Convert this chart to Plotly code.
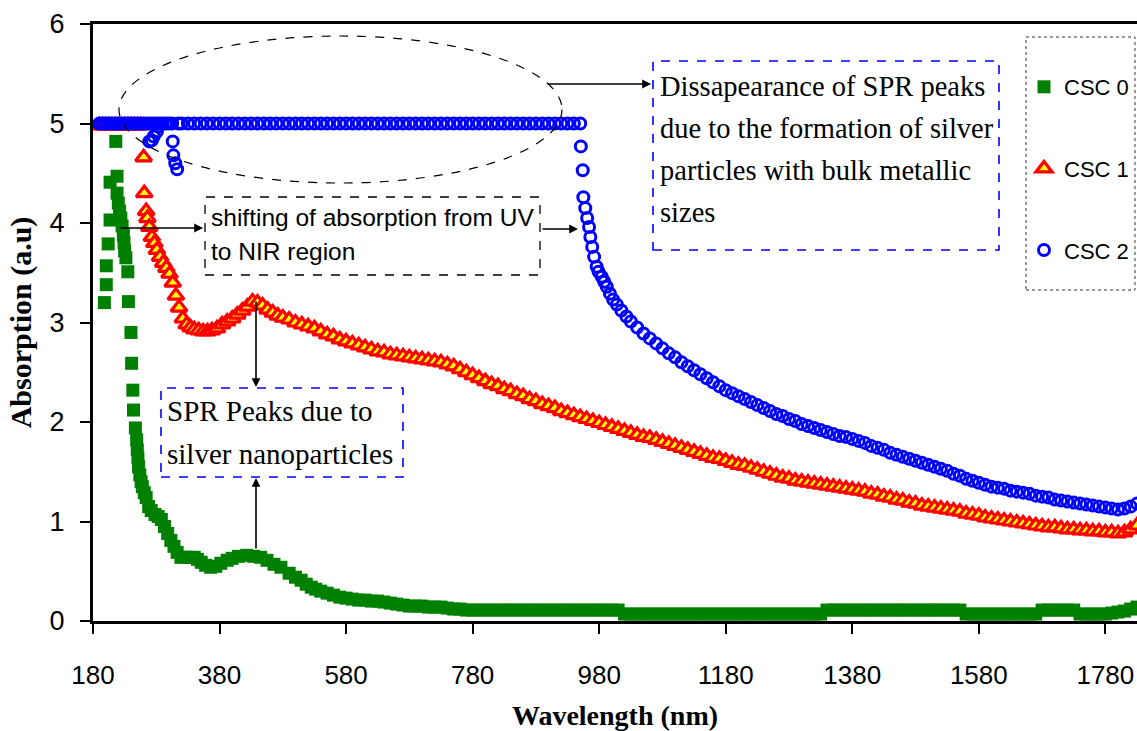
import plotly.graph_objects as go

# ---------------- data ----------------
# shared 10-nm grid used by CSC 0 and CSC 1 beyond 530 nm
WL_GRID = [540, 550, 560, 570, 580, 590, 600, 610, 620, 630,
           640, 650, 660, 670, 680, 690, 700, 710, 720, 730,
           740, 750, 760, 770, 780, 790, 800, 810, 820, 830,
           840, 850, 860, 870, 880, 890, 900, 910, 920, 930,
           940, 950, 960, 970, 980, 990, 1000, 1010, 1020, 1030,
           1040, 1050, 1060, 1070, 1080, 1090, 1100, 1110, 1120, 1130,
           1140, 1150, 1160, 1170, 1180, 1190, 1200, 1210, 1220, 1230,
           1240, 1250, 1260, 1270, 1280, 1290, 1300, 1310, 1320, 1330,
           1340, 1350, 1360, 1370, 1380, 1390, 1400, 1410, 1420, 1430,
           1440, 1450, 1460, 1470, 1480, 1490, 1500, 1510, 1520, 1530,
           1540, 1550, 1560, 1570, 1580, 1590, 1600, 1610, 1620, 1630,
           1640, 1650, 1660, 1670, 1680, 1690, 1700, 1710, 1720, 1730,
           1740, 1750, 1760, 1770, 1780, 1790, 1800, 1810, 1820, 1830]

# CSC 0
wl0_uv = [198, 201, 201, 204, 207, 207, 216, 218, 218, 220,
          222, 224, 226, 228, 229, 230, 232, 235, 236, 240,
          241, 243, 244, 247, 249, 250, 251, 252, 254, 256,
          258, 261, 264, 268, 272, 278, 283, 288, 293, 298,
          303, 308, 313, 319, 326, 333, 340, 345, 351, 358,
          366, 374, 382, 392, 400, 410, 423, 434, 445, 455,
          466, 477, 490, 500, 509, 517, 525, 532]
csc0_uv = [3.20, 3.38, 3.57, 3.79, 4.03, 4.41, 4.82, 4.47, 4.30, 4.20,
           4.12, 4.05, 3.97, 3.88, 3.80, 3.72, 3.65, 3.51, 3.21, 2.90,
           2.59, 2.32, 2.12, 1.94, 1.82, 1.72, 1.64, 1.55, 1.47, 1.40,
           1.35, 1.29, 1.24, 1.15, 1.11, 1.07, 1.05, 1.02, 0.95, 0.88,
           0.81, 0.75, 0.69, 0.64, 0.64, 0.64, 0.64, 0.62, 0.59, 0.56,
           0.54, 0.55, 0.58, 0.61, 0.63, 0.65, 0.66, 0.65, 0.64, 0.61,
           0.57, 0.54, 0.48, 0.44, 0.41, 0.37, 0.34, 0.32]
csc0_grid = [0.30, 0.28, 0.26, 0.24, 0.23, 0.22, 0.21, 0.21, 0.20, 0.20,
             0.19, 0.18, 0.17, 0.16, 0.15, 0.15, 0.15, 0.14, 0.14, 0.14,
             0.13, 0.12, 0.12, 0.11, 0.11, 0.11, 0.11, 0.11, 0.11, 0.11,
             0.11, 0.11, 0.11, 0.11, 0.11, 0.11, 0.11, 0.11, 0.11, 0.11,
             0.11, 0.11, 0.11, 0.11, 0.11, 0.11, 0.11, 0.11, 0.07, 0.07,
             0.07, 0.07, 0.07, 0.07, 0.07, 0.07, 0.07, 0.07, 0.07, 0.07,
             0.07, 0.07, 0.07, 0.07, 0.07, 0.07, 0.07, 0.07, 0.07, 0.07,
             0.07, 0.07, 0.07, 0.07, 0.07, 0.07, 0.07, 0.07, 0.07, 0.07,
             0.11, 0.11, 0.11, 0.11, 0.11, 0.11, 0.11, 0.11, 0.11, 0.11,
             0.11, 0.11, 0.11, 0.11, 0.11, 0.11, 0.11, 0.11, 0.11, 0.11,
             0.11, 0.11, 0.07, 0.07, 0.07, 0.07, 0.07, 0.07, 0.07, 0.07,
             0.07, 0.07, 0.07, 0.07, 0.11, 0.11, 0.11, 0.11, 0.11, 0.11,
             0.07, 0.07, 0.07, 0.07, 0.07, 0.08, 0.09, 0.10, 0.12, 0.14]

# CSC 1
wl1_uv = [190, 195, 200, 205, 210, 215, 220, 225, 230, 235,
          240, 245, 250, 255, 260, 261, 264, 266, 269, 273,
          277, 281, 286, 291, 296, 301, 306, 311, 316, 322,
          328, 334, 340, 347, 354, 361, 368, 376, 384, 392,
          400, 408, 416, 424, 432, 440, 448, 456, 464, 472,
          480, 490, 500, 510, 520, 530]
csc1_uv = [4.98, 4.98, 4.98, 4.98, 4.98, 4.98, 4.98, 4.98, 4.98, 4.98,
           4.98, 4.98, 4.98, 4.98, 4.66, 4.30, 4.12, 4.05, 3.96, 3.86,
           3.80, 3.73, 3.66, 3.60, 3.55, 3.49, 3.40, 3.27, 3.15, 3.04,
           2.98, 2.95, 2.93, 2.92, 2.91, 2.91, 2.92, 2.94, 2.98, 3.01,
           3.04, 3.08, 3.12, 3.16, 3.21, 3.20, 3.17, 3.13, 3.10, 3.07,
           3.05, 3.03, 3.00, 2.98, 2.96, 2.94]
csc1_grid = [2.91, 2.88, 2.86, 2.83, 2.81, 2.79, 2.77, 2.75, 2.73, 2.71,
             2.70, 2.68, 2.67, 2.66, 2.65, 2.64, 2.63, 2.62, 2.61, 2.60,
             2.58, 2.56, 2.53, 2.50, 2.47, 2.44, 2.41, 2.38, 2.36, 2.33,
             2.31, 2.28, 2.26, 2.23, 2.21, 2.18, 2.16, 2.14, 2.11, 2.09,
             2.07, 2.05, 2.03, 2.01, 1.99, 1.97, 1.95, 1.93, 1.91, 1.89,
             1.87, 1.85, 1.84, 1.82, 1.80, 1.78, 1.76, 1.74, 1.72, 1.70,
             1.68, 1.66, 1.64, 1.63, 1.61, 1.59, 1.57, 1.56, 1.54, 1.52,
             1.50, 1.48, 1.46, 1.44, 1.43, 1.41, 1.40, 1.39, 1.38, 1.37,
             1.36, 1.35, 1.34, 1.33, 1.32, 1.31, 1.30, 1.28, 1.27, 1.25,
             1.24, 1.22, 1.21, 1.19, 1.18, 1.16, 1.15, 1.14, 1.13, 1.12,
             1.11, 1.10, 1.08, 1.07, 1.06, 1.04, 1.03, 1.02, 1.01, 1.00,
             0.99, 0.98, 0.97, 0.96, 0.95, 0.94, 0.94, 0.93, 0.92, 0.92,
             0.91, 0.91, 0.90, 0.90, 0.89, 0.89, 0.88, 0.89, 0.92, 0.96]

# CSC 2
wl2 = [190, 195, 200, 205, 210, 215, 220, 225, 230, 235,
       240, 245, 250, 255, 260, 265, 269, 270, 273, 275,
       276, 280, 281, 283, 285, 290, 295, 300, 305, 306,
       307, 310, 313, 315, 320, 330, 340, 350, 360, 370,
       380, 390, 400, 410, 420, 430, 440, 450, 460, 470,
       480, 490, 500, 510, 520, 530, 540, 550, 560, 570,
       580, 590, 600, 610, 620, 630, 640, 650, 660, 670,
       680, 690, 700, 710, 720, 730, 740, 750, 760, 770,
       780, 790, 800, 810, 820, 830, 840, 850, 860, 870,
       880, 890, 900, 910, 920, 930, 940, 950, 951, 954,
       955, 958, 961, 964, 966, 969, 972, 976, 979, 984,
       988, 992, 997, 1002, 1008, 1015, 1023, 1030, 1040, 1050,
       1060, 1070, 1080, 1090, 1100, 1110, 1120, 1130, 1140, 1150,
       1160, 1170, 1180, 1190, 1200, 1210, 1220, 1230, 1240, 1250,
       1260, 1270, 1280, 1290, 1300, 1310, 1320, 1330, 1340, 1350,
       1360, 1370, 1380, 1390, 1400, 1410, 1420, 1430, 1440, 1450,
       1460, 1470, 1480, 1490, 1500, 1510, 1520, 1530, 1540, 1550,
       1560, 1570, 1580, 1590, 1600, 1610, 1620, 1630, 1640, 1650,
       1660, 1670, 1680, 1690, 1700, 1710, 1720, 1730, 1740, 1750,
       1760, 1770, 1780, 1790, 1800, 1810, 1820, 1830]
csc2 = [5.00, 5.00, 5.00, 5.00, 5.00, 5.00, 5.00, 5.00, 5.00, 5.00,
        5.00, 5.00, 5.00, 5.00, 5.00, 5.00, 4.82, 5.00, 4.83, 5.00,
        4.87, 5.00, 4.92, 4.97, 5.00, 5.00, 5.00, 5.00, 5.00, 4.82,
        4.68, 4.60, 4.54, 5.00, 5.00, 5.00, 5.00, 5.00, 5.00, 5.00,
        5.00, 5.00, 5.00, 5.00, 5.00, 5.00, 5.00, 5.00, 5.00, 5.00,
        5.00, 5.00, 5.00, 5.00, 5.00, 5.00, 5.00, 5.00, 5.00, 5.00,
        5.00, 5.00, 5.00, 5.00, 5.00, 5.00, 5.00, 5.00, 5.00, 5.00,
        5.00, 5.00, 5.00, 5.00, 5.00, 5.00, 5.00, 5.00, 5.00, 5.00,
        5.00, 5.00, 5.00, 5.00, 5.00, 5.00, 5.00, 5.00, 5.00, 5.00,
        5.00, 5.00, 5.00, 5.00, 5.00, 5.00, 5.00, 5.00, 4.77, 4.53,
        4.26, 4.15, 4.05, 3.96, 3.86, 3.76, 3.66, 3.56, 3.51, 3.46,
        3.41, 3.36, 3.29, 3.23, 3.18, 3.12, 3.06, 3.01, 2.95, 2.89,
        2.84, 2.79, 2.74, 2.69, 2.65, 2.60, 2.56, 2.52, 2.48, 2.44,
        2.40, 2.36, 2.32, 2.29, 2.26, 2.23, 2.20, 2.17, 2.14, 2.11,
        2.08, 2.06, 2.03, 2.01, 1.98, 1.96, 1.94, 1.92, 1.90, 1.88,
        1.86, 1.85, 1.83, 1.81, 1.79, 1.76, 1.74, 1.72, 1.69, 1.67,
        1.65, 1.63, 1.61, 1.59, 1.57, 1.55, 1.53, 1.51, 1.48, 1.46,
        1.43, 1.41, 1.39, 1.37, 1.35, 1.34, 1.33, 1.31, 1.30, 1.29,
        1.28, 1.26, 1.25, 1.24, 1.22, 1.21, 1.20, 1.19, 1.18, 1.17,
        1.16, 1.15, 1.14, 1.13, 1.12, 1.13, 1.15, 1.18]

X_TICKS = [180, 380, 580, 780, 980, 1180, 1380, 1580, 1780]
SERIES_NAMES = ["CSC 0", "CSC 1", "CSC 2"]

# ---------------- layout geometry ----------------
W, H = 1137, 731
ML, MR, MT, MB = 93, 0, 24, 110
XR = (180, 1830)
YR = (0, 6)
PW, PH = W - ML - MR, H - MT - MB


def dx(px):
    return XR[0] + (px - ML) / PW * (XR[1] - XR[0])


def dy(py):
    return YR[1] - (py - MT) / PH * (YR[1] - YR[0])


def paper_x(px):
    return (px - ML) / PW


def paper_y(py):
    return 1 - (py - MT) / PH


SANS = "Liberation Sans, Arial, sans-serif"
SERIF = "Liberation Serif, Times New Roman, serif"

fig = go.Figure()
fig.add_trace(go.Scatter(
    x=wl0_uv + WL_GRID, y=csc0_uv + csc0_grid, mode="markers", name=SERIES_NAMES[0],
    legendgroup="g0",
    marker=dict(symbol="square", size=13, color="#008000", line=dict(width=0)),
))
fig.add_trace(go.Scatter(
    x=wl1_uv + WL_GRID, y=csc1_uv + csc1_grid, mode="markers", name=SERIES_NAMES[1],
    legendgroup="g1",
    marker=dict(symbol="triangle-up", size=14, color="#FFFF00",
                line=dict(color="#FF0000", width=3.2)),
))
fig.add_trace(go.Scatter(
    x=wl2, y=csc2, mode="markers", name=SERIES_NAMES[2],
    legendgroup="g2",
    marker=dict(symbol="circle-open", size=11, color="#0000FF", line=dict(width=3)),
))

shapes = []
# dashed ellipse
shapes.append(dict(type="circle", xref="x", yref="y",
                   x0=dx(119), x1=dx(562), y0=dy(183), y1=dy(36),
                   line=dict(color="black", width=1.2, dash="dash")))
# text boxes
shapes.append(dict(type="rect", xref="x", yref="y",
                   x0=dx(205), x1=dx(540), y0=dy(275), y1=dy(197),
                   line=dict(color="black", width=1.3, dash="dash"), fillcolor="rgba(0,0,0,0)"))
shapes.append(dict(type="rect", xref="x", yref="y",
                   x0=dx(161), x1=dx(403), y0=dy(477), y1=dy(388),
                   line=dict(color="#0000FF", width=1.6, dash="dash"), fillcolor="rgba(0,0,0,0)"))
shapes.append(dict(type="rect", xref="x", yref="y",
                   x0=dx(653), x1=dx(999), y0=dy(250), y1=dy(61),
                   line=dict(color="#0000FF", width=1.6, dash="dash"), fillcolor="rgba(0,0,0,0)"))
# legend frame
shapes.append(dict(type="rect", xref="paper", yref="paper",
                   x0=paper_x(1026), x1=paper_x(1135), y0=paper_y(290), y1=paper_y(37),
                   line=dict(color="#333333", width=1, dash="dot"), fillcolor="rgba(0,0,0,0)"))

annotations = []


def arrow(tip_px, tip_py, tail_px, tail_py):
    annotations.append(dict(x=dx(tip_px), y=dy(tip_py), xref="x", yref="y", text="",
                            showarrow=True, arrowhead=2, arrowsize=1.1, arrowwidth=1.6,
                            arrowcolor="black", ax=tail_px - tip_px, ay=tail_py - tip_py,
                            standoff=0, startstandoff=0))


arrow(203, 228, 119, 228)
arrow(578, 229, 541, 229)
arrow(256, 387, 256, 300)
arrow(256, 478, 256, 550)
arrow(651, 84, 546, 84)


def text(px, py, s, family, size):
    annotations.append(dict(x=dx(px), y=dy(py), xref="x", yref="y", text=s,
                            showarrow=False, xanchor="left", yanchor="middle",
                            font=dict(family=family, size=size, color="black")))


text(209, 217, "shifting of absorption from UV", SANS, 24.5)
text(209, 251, "to NIR region", SANS, 24.5)
text(165, 411, "SPR Peaks due to", SERIF, 29)
text(165, 454, "silver nanoparticles", SERIF, 29)
for i, line in enumerate(["Dissapearance of SPR peaks", "due to the formation of silver",
                          "particles with bulk metallic", "sizes"]):
    text(658, 86 + i * 42, line, SERIF, 28.5)

fig.update_layout(
    width=W, height=H,
    margin=dict(l=ML, r=MR, t=MT, b=MB, pad=0),
    plot_bgcolor="white", paper_bgcolor="white",
    shapes=shapes, annotations=annotations,
    showlegend=True,
    legend=dict(x=paper_x(1024), y=paper_y(66), xanchor="left", yanchor="top",
                bgcolor="rgba(0,0,0,0)", borderwidth=0,
                font=dict(family=SANS, size=22, color="black"),
                tracegroupgap=50, traceorder="grouped"),
    xaxis=dict(range=list(XR), tickvals=X_TICKS, ticks="outside", ticklen=10, tickwidth=2,
               tickcolor="black", showline=True, linewidth=3, linecolor="black", mirror=True,
               showgrid=False, zeroline=False, ticklabelstandoff=19,
               tickfont=dict(family=SANS, size=26, color="black"),
               title=dict(text="Wavelength (nm)", standoff=20,
                          font=dict(family=SERIF, size=28, color="black", weight="bold"))),
    yaxis=dict(range=list(YR), dtick=1, ticks="outside", ticklen=10, tickwidth=2,
               tickcolor="black", showline=True, linewidth=3, linecolor="black",
               showgrid=False, zeroline=False, ticklabelstandoff=10,
               tickfont=dict(family=SANS, size=27, color="black"),
               title=dict(text="Absorption (a.u)", standoff=10,
                          font=dict(family=SERIF, size=30, color="black", weight="bold"))),
)

fig.write_html("out.html")
